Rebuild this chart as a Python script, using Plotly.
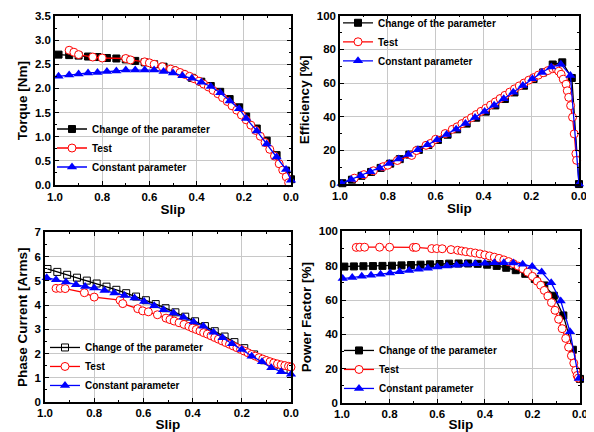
import plotly.graph_objects as go

# ---------------- Torque ----------------
tq_chg_s = [0.985, 0.94, 0.90, 0.86, 0.82, 0.78, 0.74, 0.70, 0.66, 0.62, 0.58, 0.54, 0.50,
            0.46, 0.42, 0.38, 0.34, 0.30, 0.26, 0.22, 0.19, 0.145, 0.103, 0.061, 0.021, 0.0]
tq_chg_v = [2.70, 2.69, 2.68, 2.66, 2.65, 2.63, 2.62, 2.60, 2.57, 2.54, 2.50, 2.45, 2.38,
            2.30, 2.22, 2.14, 2.05, 1.93, 1.78, 1.61, 1.42, 1.17, 0.92, 0.62, 0.30, 0.12]
tq_test_s = [0.94, 0.92, 0.90, 0.84, 0.80, 0.70, 0.68, 0.62, 0.60, 0.58, 0.545, 0.51, 0.49,
             0.47, 0.45, 0.43, 0.41, 0.39, 0.37, 0.35, 0.33, 0.31, 0.29, 0.27, 0.25, 0.23,
             0.21, 0.19, 0.17, 0.15, 0.13, 0.11, 0.09, 0.07, 0.05, 0.035, 0.02, 0.01]
tq_test_v = [2.79, 2.75, 2.70, 2.65, 2.63, 2.62, 2.59, 2.55, 2.53, 2.50, 2.45, 2.40, 2.37,
             2.33, 2.29, 2.25, 2.20, 2.15, 2.09, 2.03, 1.96, 1.89, 1.81, 1.73, 1.64, 1.55,
             1.45, 1.35, 1.24, 1.13, 1.01, 0.88, 0.74, 0.60, 0.44, 0.31, 0.17, 0.05]
tq_const_s = [0.985, 0.94, 0.90, 0.86, 0.82, 0.78, 0.74, 0.70, 0.66, 0.62, 0.58, 0.54, 0.50,
              0.46, 0.42, 0.38, 0.34, 0.30, 0.26, 0.22, 0.19, 0.145, 0.103, 0.061, 0.021, 0.0]
tq_const_v = [2.25, 2.28, 2.30, 2.32, 2.33, 2.35, 2.36, 2.38, 2.38, 2.38, 2.38, 2.35, 2.32,
              2.26, 2.21, 2.13, 2.04, 1.91, 1.74, 1.58, 1.38, 1.12, 0.85, 0.58, 0.32, 0.10]

# ---------------- Efficiency ----------------
ef_chg_s = [0.99, 0.95, 0.91, 0.87, 0.83, 0.79, 0.75, 0.71, 0.67, 0.63, 0.59, 0.55, 0.51,
            0.47, 0.43, 0.39, 0.35, 0.31, 0.27, 0.23, 0.19, 0.15, 0.11, 0.07, 0.03, 0.0]
ef_chg_v = [0.5, 2.6, 4.9, 7.2, 9.6, 12.1, 14.8, 17.5, 20.3, 23.2, 26.2, 29.3, 32.5,
            35.9, 39.4, 43.0, 46.7, 50.5, 54.4, 58.4, 62.4, 66.3, 71.0, 72.3, 63.0, 0.0]
ef_test_s = [0.94, 0.90, 0.86, 0.82, 0.80, 0.76, 0.70, 0.68, 0.64, 0.62, 0.60, 0.56, 0.53,
             0.51, 0.49, 0.47, 0.45, 0.43, 0.41, 0.39, 0.37, 0.35, 0.33, 0.31, 0.29, 0.27,
             0.25, 0.23, 0.21, 0.19, 0.17, 0.15, 0.13, 0.11, 0.095, 0.085, 0.075, 0.066,
             0.054, 0.049, 0.043, 0.035, 0.027, 0.02, 0.013, 0.01]
ef_test_v = [3.5, 5.6, 7.9, 10.3, 11.2, 14.0, 17.0, 19.9, 23.0, 24.2, 26.6, 30.0, 32.5,
             34.0, 35.9, 37.6, 39.4, 41.3, 43.2, 45.0, 46.9, 48.8, 50.8, 52.7, 54.6, 56.5,
             58.3, 60.0, 61.7, 63.2, 64.7, 66.1, 67.4, 68.5, 68.3, 67.0, 65.2, 62.3,
             59.3, 55.4, 51.5, 46.6, 39.7, 29.8, 18.0, 14.1]
ef_const_s = [0.993, 0.953, 0.913, 0.873, 0.834, 0.794, 0.754, 0.714, 0.674, 0.634, 0.594,
              0.554, 0.514, 0.475, 0.435, 0.395, 0.355, 0.315, 0.275, 0.235, 0.195, 0.155,
              0.116, 0.076, 0.036, 0.0]
ef_const_v = [0.4, 2.7, 5.0, 7.3, 9.6, 12.2, 14.9, 17.6, 20.4, 23.3, 26.3, 29.4, 32.6,
              36.0, 39.5, 43.1, 46.8, 50.6, 54.5, 58.5, 62.5, 66.3, 69.5, 71.2, 64.5, 0.0]

# ---------------- Phase current ----------------
pc_chg_s = [0.99, 0.95, 0.91, 0.87, 0.83, 0.79, 0.75, 0.71, 0.67, 0.63, 0.59, 0.55, 0.51,
            0.47, 0.43, 0.39, 0.35, 0.31, 0.27, 0.23, 0.19, 0.15, 0.11, 0.07, 0.03]
pc_chg_v = [5.49, 5.37, 5.25, 5.13, 5.01, 4.89, 4.76, 4.63, 4.49, 4.35, 4.20, 4.04, 3.87,
            3.70, 3.52, 3.33, 3.13, 2.92, 2.70, 2.47, 2.22, 1.96, 1.72, 1.50, 1.33]
pc_test_s = [0.955, 0.938, 0.918, 0.84, 0.80, 0.695, 0.684, 0.623, 0.603, 0.58, 0.543, 0.508,
             0.492, 0.475, 0.455, 0.435, 0.415, 0.40, 0.385, 0.37, 0.355, 0.34, 0.325, 0.31,
             0.295, 0.28, 0.265, 0.25, 0.235, 0.22, 0.205, 0.19, 0.175, 0.16, 0.145, 0.13,
             0.115, 0.10, 0.085, 0.07, 0.055, 0.04, 0.025, 0.01, 0.0]
pc_test_v = [4.69, 4.69, 4.68, 4.51, 4.33, 4.20, 4.06, 3.85, 3.76, 3.72, 3.60, 3.46,
             3.40, 3.34, 3.27, 3.20, 3.12, 3.05, 2.99, 2.93, 2.86, 2.80, 2.73, 2.66,
             2.59, 2.52, 2.45, 2.38, 2.31, 2.24, 2.17, 2.10, 2.03, 1.96, 1.89, 1.83,
             1.77, 1.71, 1.66, 1.61, 1.57, 1.53, 1.50, 1.47, 1.44]
pc_const_s = [0.993, 0.955, 0.915, 0.874, 0.837, 0.80, 0.758, 0.718, 0.677, 0.636, 0.597,
              0.556, 0.518, 0.477, 0.437, 0.396, 0.356, 0.315, 0.278, 0.24, 0.20, 0.16,
              0.118, 0.08, 0.04, 0.0]
pc_const_v = [5.13, 5.05, 4.95, 4.84, 4.77, 4.70, 4.60, 4.50, 4.39, 4.29, 4.15, 3.97,
              3.81, 3.67, 3.50, 3.30, 3.12, 2.88, 2.65, 2.40, 2.16, 1.89, 1.66, 1.41,
              1.25, 1.14]

# ---------------- Power factor ----------------
pf_chg_s = [0.99, 0.95, 0.91, 0.87, 0.83, 0.79, 0.75, 0.71, 0.67, 0.63, 0.59, 0.55, 0.51,
            0.47, 0.43, 0.39, 0.35, 0.31, 0.27, 0.23, 0.19, 0.15, 0.11, 0.07, 0.03, 0.0]
pf_chg_v = [79.5, 79.6, 79.7, 79.8, 79.9, 80.0, 80.2, 80.4, 80.6, 80.8, 81.0, 81.2, 81.3,
            81.3, 81.1, 80.6, 79.9, 78.8, 77.4, 75.3, 72.3, 68.5, 62.5, 51.0, 31.0, 14.0]
pf_test_s = [0.94, 0.925, 0.905, 0.842, 0.80, 0.70, 0.689, 0.623, 0.602, 0.579, 0.542,
             0.514, 0.497, 0.48, 0.46, 0.44, 0.42, 0.40, 0.38, 0.36, 0.34, 0.32, 0.30,
             0.28, 0.26, 0.24, 0.22, 0.20, 0.18, 0.165, 0.15, 0.135, 0.12, 0.105, 0.09,
             0.075, 0.06, 0.048, 0.036, 0.026, 0.018, 0.012, 0.007]
pf_test_v = [90.7, 90.8, 90.8, 90.8, 90.8, 90.7, 90.7, 90.0, 90.0, 89.9, 89.4,
             89.0, 88.6, 88.2, 87.8, 87.4, 86.9, 86.3, 85.7, 85.0, 84.3, 83.4, 82.4,
             81.2, 79.8, 78.2, 76.2, 73.8, 71.0, 68.6, 65.6, 62.3, 58.5, 54.0, 48.8,
             43.3, 37.6, 32.5, 27.5, 23.2, 19.0, 16.0, 14.5]
pf_const_s = [0.997, 0.957, 0.917, 0.878, 0.838, 0.798, 0.758, 0.718, 0.678, 0.639, 0.599,
              0.559, 0.519, 0.479, 0.440, 0.400, 0.360, 0.320, 0.280, 0.241, 0.201, 0.161,
              0.121, 0.081, 0.042, 0.005]
pf_const_v = [72.5, 73.2, 73.8, 74.4, 75.1, 75.8, 76.5, 77.2, 77.9, 78.6, 79.2, 79.8,
              80.3, 80.8, 81.2, 81.5, 81.7, 81.8, 81.6, 80.9, 79.5, 76.3, 70.0, 59.5,
              41.5, 14.3]

names = ["Change of the parameter", "Test", "Constant parameter"]

FONT = "Liberation Sans, Arial, sans-serif"
OFF = 8                      # page body margin in the browser
W, H = 594 - OFF, 432 - OFF  # figure size so that it fits the window

fig = go.Figure()

panels = [
    ("x", "y", "legend", (tq_chg_s, tq_chg_v), (tq_test_s, tq_test_v), (tq_const_s, tq_const_v), False),
    ("x2", "y2", "legend2", (ef_chg_s, ef_chg_v), (ef_test_s, ef_test_v), (ef_const_s, ef_const_v), False),
    ("x3", "y3", "legend3", (pc_chg_s, pc_chg_v), (pc_test_s, pc_test_v), (pc_const_s, pc_const_v), True),
    ("x4", "y4", "legend4", (pf_chg_s, pf_chg_v), (pf_test_s, pf_test_v), (pf_const_s, pf_const_v), False),
]

for xa, ya, lg, chg, test, const, chg_open in panels:
    fig.add_trace(go.Scatter(
        x=chg[0], y=chg[1], name=names[0], xaxis=xa, yaxis=ya, legend=lg,
        mode="lines+markers", cliponaxis=False,
        line=dict(color="black", width=1.3),
        marker=dict(symbol="square-open" if chg_open else "square", size=7,
                    color="black", line=dict(color="black", width=1))))
    fig.add_trace(go.Scatter(
        x=test[0], y=test[1], name=names[1], xaxis=xa, yaxis=ya, legend=lg,
        mode="lines+markers", cliponaxis=False,
        line=dict(color="#ff0000", width=1.3),
        marker=dict(symbol="circle", size=8, color="white",
                    line=dict(color="#ff0000", width=1))))
    fig.add_trace(go.Scatter(
        x=const[0], y=const[1], name=names[2], xaxis=xa, yaxis=ya, legend=lg,
        mode="lines+markers", cliponaxis=False,
        line=dict(color="#0000ff", width=1.3),
        marker=dict(symbol="triangle-up", size=9, color="#0000ff",
                    line=dict(color="#0000ff", width=0))))

def px_dom(a, b):
    return [(a - OFF) / W, (b - OFF) / W]

def py_dom(top, bottom):
    return [1 - (bottom - OFF) / H, 1 - (top - OFF) / H]

tickfont = dict(family=FONT, size=11.5, color="black", weight="bold")
titlefont = dict(family=FONT, size=13.5, color="black", weight="bold")

def xaxis(dom, anchor):
    return dict(domain=dom, anchor=anchor, range=[1.0, 0.0], tickvals=[1.0, 0.8, 0.6, 0.4, 0.2, 0.0],
                tickformat=".1f", ticks="inside", ticklen=4, tickwidth=1, tickcolor="black",
                minor=dict(ticks="inside", ticklen=2, tickcolor="black", dtick=0.1, showgrid=False),
                showline=True, linecolor="black", linewidth=1.5, mirror="ticks",
                showgrid=True, gridcolor="#c8c8c8", gridwidth=1, zeroline=False,
                tickfont=tickfont, automargin=False,
                title=dict(text="Slip", font=titlefont, standoff=3))

def yaxis(dom, anchor, rng, dtick, minor, fmt, title):
    return dict(domain=dom, anchor=anchor, range=rng, dtick=dtick, tick0=0, tickformat=fmt,
                ticks="inside", ticklen=4, tickwidth=1, tickcolor="black",
                minor=dict(ticks="inside", ticklen=2, tickcolor="black", dtick=minor, showgrid=False),
                showline=True, linecolor="black", linewidth=1.5, mirror="ticks",
                showgrid=True, gridcolor="#c8c8c8", gridwidth=1, zeroline=False,
                tickfont=tickfont, automargin=False,
                title=dict(text=title, font=titlefont, standoff=4))

legfont = dict(family=FONT, size=10, color="black", weight="bold")

def legend(x, y):
    return dict(x=(x - OFF) / W, y=1 - (y - OFF) / H, xanchor="left", yanchor="middle",
                bgcolor="rgba(0,0,0,0)", borderwidth=0, font=legfont,
                itemwidth=30, tracegroupgap=0)

fig.update_layout(
    width=W, height=H,
    margin=dict(l=0, r=0, t=0, b=0),
    paper_bgcolor="white", plot_bgcolor="white",
    showlegend=True,
    xaxis=xaxis(px_dom(55, 291), "y"),
    yaxis=yaxis(py_dom(13, 183.3), "x", [0, 3.5], 0.5, 0.25, ".1f", "Torque [Nm]"),
    xaxis2=xaxis(px_dom(340, 579), "y2"),
    yaxis2=yaxis(py_dom(12.7, 182.3), "x2", [0, 100], 20, 10, "d", "Efficiency [%]"),
    xaxis3=xaxis(px_dom(45, 291), "y3"),
    yaxis3=yaxis(py_dom(231, 401.7), "x3", [0, 7], 1, 0.5, "d", "Phase Current [Arms]"),
    xaxis4=xaxis(px_dom(342, 580), "y4"),
    yaxis4=yaxis(py_dom(230, 402.7), "x4", [0, 100], 20, 10, "d", "Power Factor [%]"),
    legend=legend(52, 146),
    legend2=legend(338, 39),
    legend3=legend(45, 366),
    legend4=legend(339, 369),
)

fig.write_html("out.html")
